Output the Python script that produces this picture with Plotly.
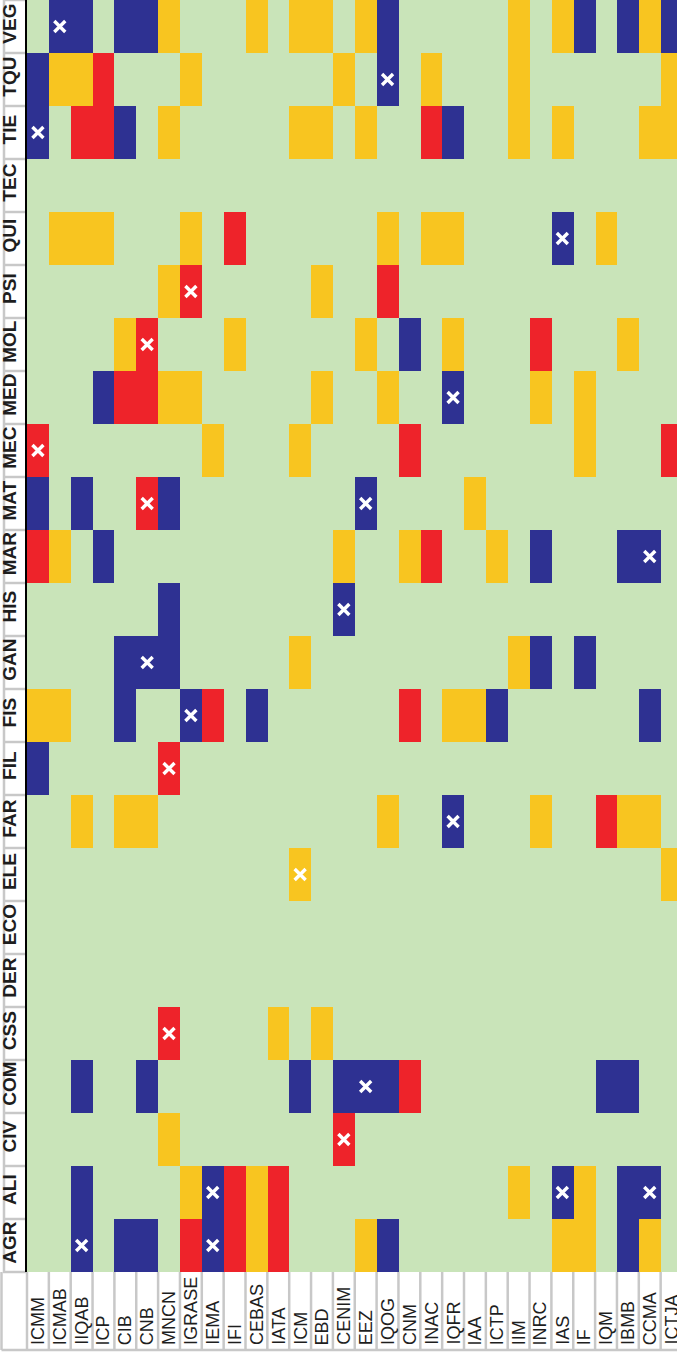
import plotly.graph_objects as go

institutes = ["ICMM", "ICMAB", "IIQAB", "ICP", "CIB", "CNB", "MNCN", "IGRASE", "IEMA", "IFI",
              "CEBAS", "IATA", "ICM", "EBD", "CENIM", "EEZ", "IQOG", "CNM", "INAC", "IQFR",
              "IAA", "ICTP", "IIM", "INRC", "IAS", "IF", "IQM", "IBMB", "CCMA", "ICTJA"]

areas = ["AGR", "ALI", "CIV", "COM", "CSS", "DER", "ECO", "ELE", "FAR", "FIL", "FIS", "GAN",
         "HIS", "MAR", "MAT", "MEC", "MED", "MOL", "PSI", "QUI", "TEC", "TIE", "TQU", "VEG"]

# codes: 0 = none, 1 = yellow, 2 = blue, 3 = red
agr = [0,0,2,0,2,2,0,3,2,3,1,3,0,0,0,1,2,0,0,0,0,0,0,0,1,1,0,2,1,0]
ali = [0,0,2,0,0,0,0,1,2,3,1,3,0,0,0,0,0,0,0,0,0,0,1,0,2,1,0,2,2,0]
civ = [0,0,0,0,0,0,1,0,0,0,0,0,0,0,3,0,0,0,0,0,0,0,0,0,0,0,0,0,0,0]
com = [0,0,2,0,0,2,0,0,0,0,0,0,2,0,2,2,2,3,0,0,0,0,0,0,0,0,2,2,0,0]
css = [0,0,0,0,0,0,3,0,0,0,0,1,0,1,0,0,0,0,0,0,0,0,0,0,0,0,0,0,0,0]
der = [0]*30
eco = [0]*30
ele = [0,0,0,0,0,0,0,0,0,0,0,0,1,0,0,0,0,0,0,0,0,0,0,0,0,0,0,0,0,1]
far = [0,0,1,0,1,1,0,0,0,0,0,0,0,0,0,0,1,0,0,2,0,0,0,1,0,0,3,1,1,0]
fil = [2,0,0,0,0,0,3,0,0,0,0,0,0,0,0,0,0,0,0,0,0,0,0,0,0,0,0,0,0,0]
fis = [1,1,0,0,2,0,0,2,3,0,2,0,0,0,0,0,0,3,0,1,1,2,0,0,0,0,0,0,2,0]
gan = [0,0,0,0,2,2,2,0,0,0,0,0,1,0,0,0,0,0,0,0,0,0,1,2,0,2,0,0,0,0]
his = [0,0,0,0,0,0,2,0,0,0,0,0,0,0,2,0,0,0,0,0,0,0,0,0,0,0,0,0,0,0]
mar = [3,1,0,2,0,0,0,0,0,0,0,0,0,0,1,0,0,1,3,0,0,1,0,2,0,0,0,2,2,0]
mat = [2,0,2,0,0,3,2,0,0,0,0,0,0,0,0,2,0,0,0,0,1,0,0,0,0,0,0,0,0,0]
mec = [3,0,0,0,0,0,0,0,1,0,0,0,1,0,0,0,0,3,0,0,0,0,0,0,0,1,0,0,0,3]
med = [0,0,0,2,3,3,1,1,0,0,0,0,0,1,0,0,1,0,0,2,0,0,0,1,0,1,0,0,0,0]
mol = [0,0,0,0,1,3,0,0,0,1,0,0,0,0,0,1,0,2,0,1,0,0,0,3,0,0,0,1,0,0]
psi = [0,0,0,0,0,0,1,3,0,0,0,0,0,1,0,0,3,0,0,0,0,0,0,0,0,0,0,0,0,0]
qui = [0,1,1,1,0,0,0,1,0,3,0,0,0,0,0,0,1,0,1,1,0,0,0,0,2,0,1,0,0,0]
tec = [0]*30
tie = [2,0,3,3,2,0,1,0,0,0,0,0,1,1,0,1,0,0,3,2,0,0,1,0,1,0,0,0,1,1]
tqu = [2,1,1,3,0,0,0,1,0,0,0,0,0,0,1,0,2,0,1,0,0,0,1,0,0,0,0,0,0,1]
veg = [0,2,2,0,2,2,1,0,0,0,1,0,1,1,0,1,2,0,0,0,0,0,1,0,1,2,0,2,1,2]

rows = [agr, ali, civ, com, css, der, eco, ele, far, fil, fis, gan, his, mar,
        mat, mec, med, mol, psi, qui, tec, tie, tqu, veg]

# cells marked with a white X: (institute, area)
x_marks = [("IIQAB", "AGR"), ("IEMA", "AGR"), ("IEMA", "ALI"), ("IAS", "ALI"), ("CCMA", "ALI"),
           ("CENIM", "CIV"), ("EEZ", "COM"), ("MNCN", "CSS"), ("ICM", "ELE"), ("IQFR", "FAR"),
           ("MNCN", "FIL"), ("IGRASE", "FIS"), ("CNB", "GAN"), ("CENIM", "HIS"), ("CCMA", "MAR"),
           ("CNB", "MAT"), ("EEZ", "MAT"), ("ICMM", "MEC"), ("IQFR", "MED"), ("CNB", "MOL"),
           ("IGRASE", "PSI"), ("IAS", "QUI"), ("ICMM", "TIE"), ("IQOG", "TQU"), ("ICMAB", "VEG")]

GREEN = "#c9e4b9"
YELLOW = "#f8c520"
BLUE = "#2e3192"
RED = "#ee232a"
GREY = "#c8c8c8"
TXT = "#1e1e1e"
FONT = "Liberation Sans Narrow, Arial Narrow, Liberation Sans, Arial"

colorscale = [[0, GREEN], [0.25, GREEN], [0.25, YELLOW], [0.5, YELLOW],
              [0.5, BLUE], [0.75, BLUE], [0.75, RED], [1, RED]]

W, H = 677, 1352
ML, MB, MT = 27, 80, 0
plot_w = W - ML
plot_h = H - MB - MT
ncol = len(institutes)
col_w = 21.85
x_max = -0.5 + plot_w / col_w
x_range = [-0.5, x_max]

fig = go.Figure()
fig.add_trace(go.Heatmap(
    z=rows, x=institutes, y=areas,
    colorscale=colorscale, zmin=-0.5, zmax=3.5,
    showscale=False, hoverinfo="skip", xgap=0, ygap=0,
))
fig.add_trace(go.Scatter(
    x=[m[0] for m in x_marks], y=[m[1] for m in x_marks],
    mode="markers",
    marker=dict(symbol="x-thin", size=11, line=dict(width=3.4, color="white"), color="white"),
    hoverinfo="skip", showlegend=False,
))

def xpaper(idx_edge):
    return (idx_edge - x_range[0]) / (x_range[1] - x_range[0])

shapes = []
# row label boxes
left_px = 4.0
xl = -(ML - left_px) / plot_w
for k in range(len(areas) + 1):
    yv = k / len(areas)
    shapes.append(dict(type="line", xref="paper", yref="paper", x0=xl - 1 / plot_w, x1=-1 / plot_w,
                       y0=yv, y1=yv, line=dict(color=GREY, width=2.5), layer="below"))
shapes.append(dict(type="line", xref="paper", yref="paper", x0=xl, x1=xl, y0=0, y1=1,
                   line=dict(color=GREY, width=2.5), layer="below"))
# column label boxes
y_bot = -(1350 - plot_h) / plot_h
for k in range(ncol + 1):
    xv = xpaper(k - 0.5)
    shapes.append(dict(type="line", xref="paper", yref="paper", x0=xv, x1=xv, y0=0, y1=y_bot,
                       line=dict(color=GREY, width=2.5), layer="below"))
x_far_left = -(ML - 1.5) / plot_w
shapes.append(dict(type="line", xref="paper", yref="paper", x0=x_far_left, x1=x_far_left,
                   y0=0, y1=y_bot, line=dict(color=GREY, width=2.5), layer="below"))
shapes.append(dict(type="line", xref="paper", yref="paper", x0=x_far_left, x1=1.02,
                   y0=y_bot, y1=y_bot, line=dict(color=GREY, width=2.5), layer="below"))

annotations = []
y_txt = -(1346 - plot_h) / plot_h
for name in institutes:
    annotations.append(dict(
        x=name, xref="x", y=y_txt, yref="paper", text=name, showarrow=False,
        textangle=-90, xanchor="center", yanchor="bottom",
        font=dict(family=FONT, size=18, color=TXT),
        borderpad=0,
    ))

fig.update_layout(
    width=W, height=H,
    margin=dict(l=ML, r=0, t=MT, b=MB, pad=0, autoexpand=False),
    paper_bgcolor="white", plot_bgcolor=GREEN,
    shapes=shapes, annotations=annotations,
    showlegend=False,
    xaxis=dict(range=x_range, showticklabels=False, ticks="", showgrid=False, zeroline=False,
               showline=False, fixedrange=True, automargin=False),
    yaxis=dict(range=[-0.5, len(areas) - 0.5], tickangle=-90, ticks="", showgrid=False,
               zeroline=False, showline=True, linecolor="black", linewidth=2,
               tickfont=dict(family=FONT, size=19, color=TXT, weight="bold"),
               ticklabelstandoff=1, fixedrange=True, automargin=False),
)

fig.write_html("out.html", config={"displayModeBar": False},
               post_script="document.body.style.margin='0';")
